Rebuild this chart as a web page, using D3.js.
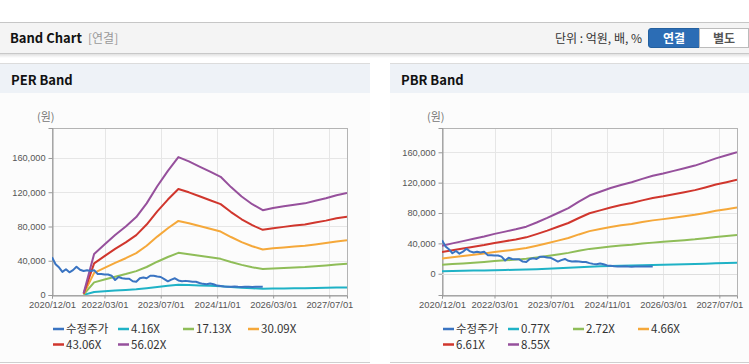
<!DOCTYPE html>
<html><head><meta charset="utf-8">
<script src="https://cdn.jsdelivr.net/npm/d3@7"></script>
<style>body{margin:0;background:#fff;} svg{display:block;font-family:"Liberation Sans",Arial,sans-serif;}</style>
</head><body><svg id="c" width="749" height="364"></svg>
<script>
// ---------------- DATA ----------------
const xTickLabels = ["2020/12/01","2022/03/01","2023/07/01","2024/11/01","2026/03/01","2027/07/01"];
const yTickValues = [0, 40000, 80000, 120000, 160000];

const priceStart = "2020-12-01"; // monthly adjusted price (수정주가)
const priceValues = [44000,36000,32000,27000,30000,26500,29000,33000,29500,28000,29000,28000,
  29000,24500,24500,24000,24000,22500,17500,21000,19500,19000,19000,16000,
  15500,19500,20500,19500,22500,22500,21500,21000,18500,16000,18000,19500,
  17000,16000,16500,16000,15500,15500,14000,13000,12500,13500,12500,11000,
  10500,10000,9700,9500,9800,9500,9300,9500,9600,9400,9500,9600,9500];

const perDates = ["2021-09-01","2021-12-01","2022-03-01","2022-06-01","2022-09-01","2022-12-01",
  "2023-03-01","2023-06-01","2023-09-01","2023-12-01","2024-03-01","2024-06-01","2024-09-01",
  "2024-12-01","2025-03-01","2025-06-01","2025-09-01","2025-12-01","2026-03-01","2026-06-01",
  "2026-09-01","2026-12-01","2027-03-01","2027-06-01","2027-09-01","2027-12-01"];
const perNames = ["수정주가","4.16X","17.13X","30.09X","43.06X","56.02X"];
const per416 = [150,3560,4380,5200,5940,6760,7950,9430,10770,11960,11580,11140,10690,10250,9360,8540,7870,7350,7540,7690,7830,7950,8170,8390,8650,8840];
const per1713 = [610,14700,18050,21400,24450,27850,32700,38850,44350,49250,47700,45850,44050,42200,38550,35150,32400,30300,31050,31650,32250,32700,33650,34550,35600,36400];
const per3009 = [1070,25800,31700,37600,42950,48900,57450,68200,77900,86500,83800,80550,77350,74100,67700,61750,56950,53150,54500,55600,56650,57450,59100,60700,62550,63900];
const per4306 = [1540,36900,45350,53800,61500,69950,82250,97600,111450,123750,119900,115300,110700,106100,96850,88400,81500,76100,78000,79550,81100,82250,84550,86850,89550,91500];
const per5602 = [2000,48000,59000,70000,80000,91000,107000,127000,145000,161000,156000,150000,144000,138000,126000,115000,106000,99000,101500,103500,105500,107000,110000,113000,116500,119000];

const pbrDates = ["2020-12-01","2021-03-01","2021-06-01","2021-09-01","2021-12-01","2022-03-01",
  "2022-06-01","2022-09-01","2022-12-01","2023-03-01","2023-06-01","2023-09-01","2023-12-01",
  "2024-03-01","2024-06-01","2024-09-01","2024-12-01","2025-03-01","2025-06-01","2025-09-01",
  "2025-12-01","2026-03-01","2026-06-01","2026-09-01","2026-12-01","2027-03-01","2027-06-01",
  "2027-09-01","2027-12-01"];
const pbrNames = ["수정주가","0.77X","2.72X","4.66X","6.61X","8.55X"];
const pbr077 = [3330,3600,3870,4140,4410,4730,5000,5270,5580,6080,6620,7200,7790,8560,9280,9730,10180,10540,10850,11260,11620,11890,12200,12520,12830,13240,13690,14050,14410];
const pbr272 = [11750,12700,13650,14600,15600,16700,17650,18600,19700,21450,23350,25450,27500,30200,32750,34350,35950,37200,38300,39750,41000,42000,43100,44200,45300,46750,48350,49600,50900];
const pbr466 = [20150,21800,23450,25050,26700,28600,30250,31900,33800,36800,40050,43600,47150,51800,56150,58850,61600,63750,65650,68100,70300,71950,73850,75750,77650,80100,82850,85000,87200];
const pbr661 = [28600,30900,33250,35550,37900,40600,42900,45200,47950,52200,56800,61850,66850,73450,79650,83500,87350,90450,93150,96650,99750,102050,104750,107450,110150,113650,117500,120600,123700];
const pbr855 = [37000,40000,43000,46000,49000,52500,55500,58500,62000,67500,73500,80000,86500,95000,103000,108000,113000,117000,120500,125000,129000,132000,135500,139000,142500,147000,152000,156000,160000];

const seriesColors = ["#3a74c2","#1fb2c6","#8fbd58","#f5a83a","#d0362d","#96509c"];
const xDomain = ["2020-12-01","2027-12-01"];

// ---------------- DRAW ----------------
const svg = d3.select("#c");
const parse = d3.timeParse("%Y-%m-%d");
const parseTick = d3.timeParse("%Y/%m/%d");
const KR = "'Noto Sans CJK KR','Noto Sans',sans-serif";

// header bar
svg.append("rect").attr("x",0).attr("y",0).attr("width",749).attr("height",364).attr("fill","#fff");
const defs = svg.append("defs");
const sh = defs.append("linearGradient").attr("id","sh").attr("x1",0).attr("x2",0).attr("y1",0).attr("y2",1);
sh.append("stop").attr("offset","0").attr("stop-color","#000").attr("stop-opacity",0.12);
sh.append("stop").attr("offset","1").attr("stop-color","#000").attr("stop-opacity",0);
svg.append("rect").attr("x",0).attr("y",22).attr("width",749).attr("height",31).attr("fill","#f4f4f4");
svg.append("line").attr("x1",0).attr("x2",749).attr("y1",22.5).attr("y2",22.5).attr("stroke","#c6c6c6");
svg.append("line").attr("x1",0).attr("x2",749).attr("y1",53.5).attr("y2",53.5).attr("stroke","#c8c8c8");
svg.append("rect").attr("x",0).attr("y",54).attr("width",749).attr("height",4).attr("fill","url(#sh)");
svg.append("text").attr("x",10).attr("y",43).attr("font-family",KR).attr("font-weight","bold")
  .attr("font-size",13).attr("fill","#111").text("Band Chart");
svg.append("text").attr("x",88).attr("y",43).attr("font-family",KR)
  .attr("font-size",12).attr("fill","#999").text("[연결]");
svg.append("text").attr("x",642).attr("y",43).attr("text-anchor","end").attr("font-family",KR)
  .attr("font-size",12).attr("fill","#333").text("단위 : 억원, 배, %");
svg.append("path").attr("d","M651,28.5 H699.5 V47.5 H651 Q648.5,47.5 648.5,45 V31 Q648.5,28.5 651,28.5 Z")
  .attr("fill","#2c6db5").attr("stroke","#24609f");
svg.append("text").attr("x",674).attr("y",43).attr("text-anchor","middle").attr("font-family",KR)
  .attr("font-weight","bold").attr("font-size",12).attr("fill","#fff").text("연결");
svg.append("rect").attr("x",699.5).attr("y",28.5).attr("width",49).attr("height",19).attr("fill","#fff").attr("stroke","#bbb");
svg.append("text").attr("x",724).attr("y",43).attr("text-anchor","middle").attr("font-family",KR)
  .attr("font-weight","bold").attr("font-size",12).attr("fill","#555").text("별도");

function panel(cfg){
  const g = svg.append("g").attr("transform",`translate(${cfg.x0},0)`);
  g.append("rect").attr("x",0).attr("y",64).attr("width",cfg.w).attr("height",298).attr("fill","#fcfcfc");
  g.append("line").attr("x1",0).attr("x2",cfg.w).attr("y1",63.5).attr("y2",63.5).attr("stroke","#dcdcdc");
  g.append("rect").attr("x",0).attr("y",64).attr("width",cfg.w).attr("height",29).attr("fill","#eef2f7");
  g.append("line").attr("x1",0).attr("x2",cfg.w).attr("y1",362.5).attr("y2",362.5).attr("stroke","#cfcfcf");
  g.append("text").attr("x",11).attr("y",85).attr("font-family",KR).attr("font-weight","bold")
    .attr("font-size",13).attr("fill","#111").text(cfg.title);
  g.append("text").attr("x",37).attr("y",121).attr("font-family",KR).attr("font-size",11)
    .attr("fill","#777").text("(원)");

  const L=52, T=128, W=295, H=167;
  const x = d3.scaleTime().domain(xDomain.map(parse)).range([L, L+W]);
  const y = d3.scaleLinear().domain(cfg.yDomain).range([T+H, T]);
  const xt = xTickLabels.map(parseTick);

  // grid
  g.append("g").selectAll("line").data(yTickValues).join("line")
    .attr("x1",L).attr("x2",L+W).attr("y1",d=>Math.round(y(d))+0.5).attr("y2",d=>Math.round(y(d))+0.5)
    .attr("stroke","#e6e6e6");
  g.append("g").selectAll("line").data(xt).join("line")
    .attr("y1",T).attr("y2",T+H).attr("x1",d=>Math.round(x(d))+0.5).attr("x2",d=>Math.round(x(d))+0.5)
    .attr("stroke","#e6e6e6");
  g.append("rect").attr("x",L+0.5).attr("y",T+0.5).attr("width",W).attr("height",H)
    .attr("fill","none").attr("stroke","#b4b4b4");

  // axes
  const ya = g.append("g").attr("transform",`translate(${L+0.5},0)`)
    .call(d3.axisLeft(y).tickValues(yTickValues).tickFormat(d3.format(",")).tickSize(4).tickPadding(3));
  ya.select(".domain").attr("stroke","#999");
  ya.selectAll(".tick line").attr("stroke","#999");
  ya.selectAll("text").attr("font-size",9.2).attr("fill","#555").attr("font-family","'Liberation Sans',Arial,sans-serif");
  const xa = g.append("g").attr("transform",`translate(0,${T+H+0.5})`)
    .call(d3.axisBottom(x).tickValues(xt).tickFormat(d3.timeFormat("%Y/%m/%d")).tickSize(3).tickPadding(3));
  xa.select(".domain").attr("stroke","#999");
  xa.selectAll(".tick line").attr("stroke","#999");
  xa.selectAll("text").attr("font-size",9.4).attr("fill","#555").attr("font-family","'Liberation Sans',Arial,sans-serif");
  if (cfg.zeroLine) {
    g.append("line").attr("x1",L).attr("x2",L+W).attr("y1",Math.round(y(0))+0.5).attr("y2",Math.round(y(0))+0.5).attr("stroke","#dedede");
  }

  // lines
  const clipId = "clip"+cfg.x0;
  defs.append("clipPath").attr("id",clipId).append("rect").attr("x",cfg.x0+L).attr("y",T).attr("width",W).attr("height",H);
  const lg = svg.append("g").attr("clip-path",`url(#${clipId})`).append("g").attr("transform",`translate(${cfg.x0},0)`);
  const line = d3.line().x(d=>x(d[0])).y(d=>y(d[1]));
  const bandDates = cfg.bandDates.map(parse);
  cfg.bands.forEach((vals,i)=>{
    lg.append("path").datum(vals.map((v,j)=>[bandDates[j],v]))
      .attr("d",line).attr("fill","none").attr("stroke",seriesColors[i+1]).attr("stroke-width",2)
      .attr("stroke-linejoin","round");
  });
  const p0 = parse(priceStart);
  lg.append("path").datum(priceValues.map((v,j)=>[d3.timeMonth.offset(p0,j),v]))
    .attr("d",line).attr("fill","none").attr("stroke",seriesColors[0]).attr("stroke-width",2)
    .attr("stroke-linejoin","round");

  // legend
  const lgd = g.append("g");
  cfg.names.forEach((n,i)=>{
    const cx = 53 + (i%4)*65, cy = 329 + Math.floor(i/4)*15.5;
    lgd.append("line").attr("x1",cx).attr("x2",cx+11).attr("y1",cy).attr("y2",cy)
      .attr("stroke",seriesColors[i]).attr("stroke-width",2.5);
    lgd.append("text").attr("x",cx+13).attr("y",cy+4).attr("font-size",11.5).attr("fill","#333")
      .attr("font-family",KR).text(n);
  });
}

panel({x0:0, w:370, title:"PER Band", yDomain:[0,195000], bandDates:perDates,
  bands:[per416,per1713,per3009,per4306,per5602], names:perNames, zeroLine:false});
panel({x0:390, w:359, title:"PBR Band", yDomain:[-28000,192000], bandDates:pbrDates,
  bands:[pbr077,pbr272,pbr466,pbr661,pbr855], names:pbrNames, zeroLine:true});
</script>
</body></html>
